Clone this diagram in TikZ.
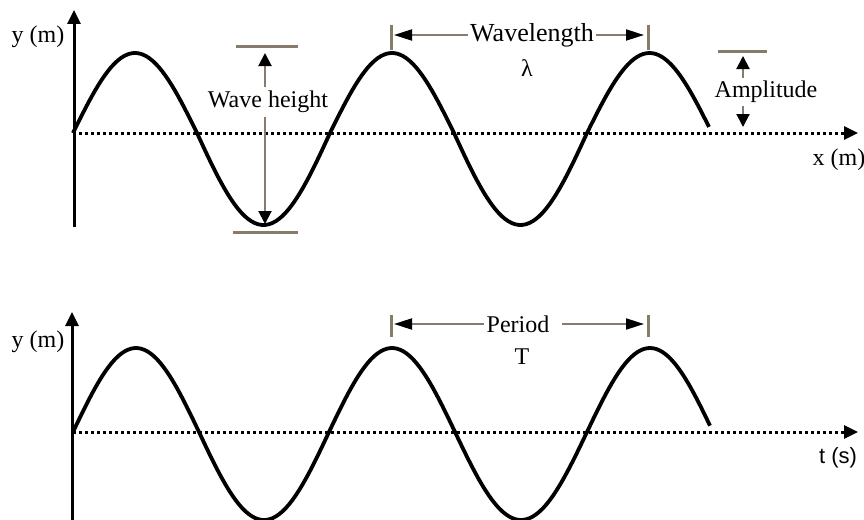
\documentclass[tikz,border=0pt]{standalone}
\usepackage{fontspec}
\setmainfont{Liberation Serif}
\newfontfamily\sansf{Liberation Sans}
\usetikzlibrary{arrows.meta}
\definecolor{dimc}{HTML}{877C6B}
\tikzset{
  wave/.style={line width=3.8pt, black, line join=round},
  axisline/.style={line width=3pt, black},
  dotline/.style={line width=3pt, black, dash pattern=on 3pt off 3pt},
  dimline/.style={line width=2pt, dimc},
  barline/.style={line width=3pt, dimc},
  lbl/.style={font=\fontsize{24}{27}\selectfont, inner sep=1pt, text=black},
  vtip/.tip={Triangle[length=13pt,width=13pt,color=black]},
  htip/.tip={Triangle[length=18pt,width=11pt,color=black]},
  axtip/.tip={Triangle[length=14pt,width=13pt,color=black]},
}
\begin{document}
\begin{tikzpicture}[x=1pt,y=-1pt]
\useasboundingbox (0,0) rectangle (864,519);
\clip (0,0) rectangle (864,519);

% ---------- top plot ----------
\coordinate (o1) at (73,133);
\coordinate (y1t) at (74,10);
\coordinate (y1b) at (74,227);
\coordinate (x1e) at (858,133);
\coordinate (x1s) at (845,133);
\draw[dotline] (o1) -- (x1s);
\draw[axisline,-axtip] (x1s) -- (x1e);
\draw[axisline,-axtip] (y1b) -- (y1t);
\node[lbl] (ylab1) at (38,37) {y (m)};
\node[lbl] (xlab1) at (839,160) {x (m)};

\draw[wave] plot[domain=73:197,samples=40] (\x,{133-80*sin((\x-73)/124*180)})
 -- plot[domain=197:330,samples=40] (\x,{133+92*sin((\x-197)/133*180)})
 -- plot[domain=330:454,samples=40] (\x,{133-80*sin((\x-330)/124*180)})
 -- plot[domain=454:587,samples=40] (\x,{133+92*sin((\x-454)/133*180)})
 -- plot[domain=587:709,samples=40] (\x,{133-80*sin((\x-587)/125*180)});

% wave height
\coordinate (whb1) at (236,47);
\coordinate (whb2) at (298,47);
\coordinate (whb3) at (233,232);
\coordinate (whb4) at (298,232);
\draw[barline] (whb1) -- (whb2);
\draw[barline] (whb3) -- (whb4);
\coordinate (wht) at (265,53);
\coordinate (whd) at (265,224);
\draw[dimline,vtip-vtip] (whd) -- (wht);
\node[lbl,fill=white,inner ysep=4pt] (wh) at (268,102) {Wave height};

% wavelength
\coordinate (wlb1t) at (391,25);
\coordinate (wlb1b) at (391,50);
\coordinate (wlb2t) at (648,25);
\coordinate (wlb2b) at (648,50);
\draw[barline] (wlb1t) -- (wlb1b);
\draw[barline] (wlb2t) -- (wlb2b);
\coordinate (wll) at (394,35);
\coordinate (wlr) at (644,35);
\draw[dimline,htip-htip] (wll) -- (wlr);
\node[lbl,fill=white,inner xsep=2pt,font=\fontsize{26}{28}\selectfont] (wl) at (532,35) {Wavelength};
\node[lbl] (lam) at (527,68) {λ};

% amplitude
\coordinate (amb1) at (718,52);
\coordinate (amb2) at (767,52);
\draw[barline] (amb1) -- (amb2);
\coordinate (amt) at (743,56);
\coordinate (amd) at (743,127);
\draw[dimline,vtip-vtip] (amd) -- (amt);
\node[lbl,fill=white,inner ysep=3pt,inner xsep=0pt] (am) at (766,92) {Amplitude};

% ---------- bottom plot ----------
\coordinate (o2) at (73,432);
\coordinate (y2t) at (72,312);
\coordinate (y2b) at (72,530);
\coordinate (x2e) at (858,432);
\coordinate (x2s) at (845,432);
\draw[dotline] (o2) -- (x2s);
\draw[axisline,-axtip] (x2s) -- (x2e);
\draw[axisline,-axtip] (y2b) -- (y2t);
\node[lbl] (ylab2) at (38,342) {y (m)};
\node[lbl,font=\sansf\fontsize{22}{26}\selectfont] (tlab) at (838,458) {t (s)};

\draw[wave] plot[domain=73:199,samples=40] (\x,{432-84*sin((\x-73)/126*180)})
 -- plot[domain=199:329,samples=40] (\x,{432+88*sin((\x-199)/130*180)})
 -- plot[domain=329:455,samples=40] (\x,{432-84*sin((\x-329)/126*180)})
 -- plot[domain=455:587,samples=40] (\x,{432+88*sin((\x-455)/132*180)})
 -- plot[domain=587:710,samples=40] (\x,{432-84*sin((\x-587)/126*180)});

% period
\coordinate (pb1t) at (391,315);
\coordinate (pb1b) at (391,337);
\coordinate (pb2t) at (648,315);
\coordinate (pb2b) at (648,337);
\draw[barline] (pb1t) -- (pb1b);
\draw[barline] (pb2t) -- (pb2b);
\node[lbl,inner xsep=2pt] (pe) at (518,324) {Period};
\coordinate (pl) at (394,324);
\coordinate (prs) at (562,324);
\coordinate (pr) at (644,324);
\draw[dimline,-htip] (pe.west) -- (pl);
\draw[dimline,-htip] (prs) -- (pr);
\node[lbl] (tt) at (522,357) {T};
\end{tikzpicture}
\end{document}
